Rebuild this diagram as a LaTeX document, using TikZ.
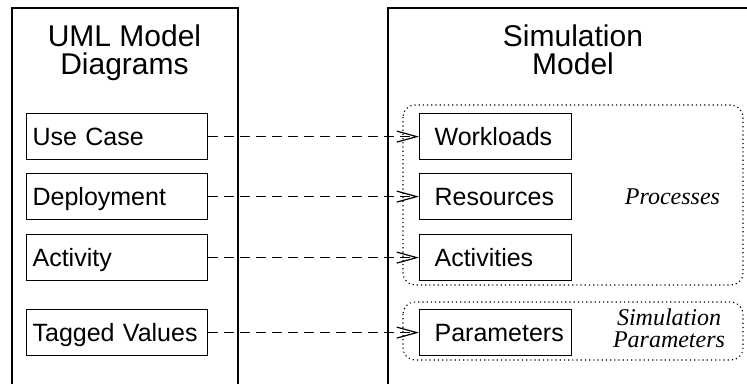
\documentclass[tikz,border=0pt]{standalone}
\usepackage{fontspec}
\setmainfont{Liberation Sans}
\newfontfamily\noteserif{Liberation Serif}
\usetikzlibrary{arrows.meta}

\begin{document}
\begin{tikzpicture}[x=1pt,y=-1pt,
  frame/.style={line width=2.6pt},
  heading/.style={align=center,font=\fontsize{30}{28}\selectfont,inner sep=0pt},
  umlbox/.style={draw,line width=1.2pt,anchor=north west,
    minimum height=46pt,text height=18pt,text depth=0pt,
    inner ysep=0pt,inner xsep=6pt,text width=169pt,align=left,
    font=\fontsize{25}{25}\selectfont},
  simbox/.style={umlbox,inner xsep=15pt,text width=122pt},
  group/.style={draw,line width=1.1pt,dash pattern=on 1.2pt off 3pt,rounded corners=12pt},
  note/.style={font=\noteserif\itshape\fontsize{24}{22}\selectfont,align=center,inner sep=0pt},
  maps/.style={line width=1.2pt,dash pattern=on 10pt off 6pt,
    -{Straight Barb[length=20pt,width=11pt,line width=1.2pt]}}
]
\useasboundingbox (0,0) rectangle (747,383);

% outer frames, open at the bottom (and at the right for the simulation side)
\draw[frame] (12,390) -- (12,8) -- (238,8) -- (238,390);
\draw[frame] (388,390) -- (388,8) -- (760,8);

% headings (base anchor sits on the last line)
\node[heading,anchor=base] (umlhead) at (124.5,74) {UML Model\\Diagrams};
\node[heading,anchor=base] (simhead) at (573,74) {Simulation\\Model};

% dotted groupings on the simulation side
\draw[group] (403,105) rectangle (743,285);
\draw[group] (403,302) rectangle (743,360);
\node[note,anchor=base] (proc) at (672.5,204) {Processes};
\node[note,anchor=base] (simpar) at (669,347) {Simulation\\Parameters};

% UML model elements
\node[umlbox] (usecase) at (26,113) {Use Case};
\node[umlbox] (deploy) at (26,173) {Deployment};
\node[umlbox] (activity) at (26,234) {Activity};
\node[umlbox] (tagged) at (26,309) {Tagged Values};

% simulation model elements
\node[simbox] (workloads) at (419,113) {Workloads};
\node[simbox] (resources) at (419,173) {Resources};
\node[simbox] (activities) at (419,234) {Activities};
\node[simbox] (params) at (419,309) {Parameters};

% mappings
\draw[maps] (usecase) -- (workloads);
\draw[maps] (deploy) -- (resources);
\draw[maps] (activity) -- (activities);
\draw[maps] (tagged) -- (params);
\end{tikzpicture}
\end{document}
